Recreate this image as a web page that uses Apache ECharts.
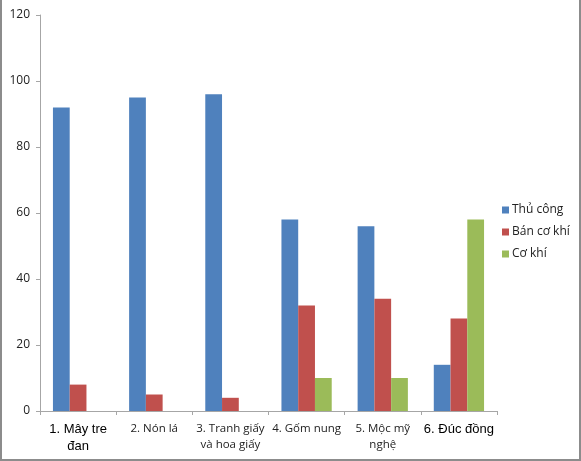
<!DOCTYPE html>
<html>
<head>
<meta charset="utf-8">
<script src="https://cdn.jsdelivr.net/npm/echarts@6/dist/echarts.min.js"></script>
<style>
  html, body { margin: 0; padding: 0; background: #fff; }
  #main { width: 577px; height: 459px; border: 2px solid #8c8c8c; border-top: none; background: #fff; }
</style>
</head>
<body>
<div id="main"></div>
<script>
var categories = ['1. Mây tre\nđan', '2. Nón lá', '3. Tranh giấy\nvà hoa giấy', '4. Gốm nung', '5. Mộc mỹ\nnghệ', '6. Đúc đồng'];
var seriesNames = ['Thủ công', 'Bán cơ khí', 'Cơ khí'];
var thuCong = [92, 95, 96, 58, 56, 14];
var banCoKhi = [8, 5, 4, 32, 34, 28];
var coKhi = [0, 0, 0, 10, 10, 58];
var colors = ['#4f81bd', '#c0504d', '#9bbb59'];
var boldLabels = ['1. Mây tre\nđan', '6. Đúc đồng'];

var myChart = echarts.init(document.getElementById('main'));
myChart.setOption({
  animation: false,
  color: colors,
  textStyle: { fontFamily: 'Open Sans, sans-serif' },
  grid: { left: 38, right: 82, top: 15, bottom: 48, containLabel: false },
  legend: {
    orient: 'vertical',
    left: 495,
    top: 199,
    itemWidth: 7,
    itemHeight: 7,
    itemGap: 10,
    icon: 'rect',
    textStyle: { fontSize: 12, color: '#222', padding: [0, 0, 0, -2] },
    data: seriesNames
  },
  xAxis: {
    type: 'category',
    data: categories,
    axisLine: { lineStyle: { color: '#a6a6a6' } },
    axisTick: { show: true, length: 4, lineStyle: { color: '#a6a6a6' } },
    axisLabel: {
      interval: 0,
      margin: 10,
      lineHeight: 16,
      formatter: function (v) {
        var s = boldLabels.indexOf(v) >= 0 ? 'b' : 'n';
        return v.split('\n').map(function (l) { return '{' + s + '|' + l + '}'; }).join('\n');
      },
      rich: {
        b: { fontSize: 13, color: '#000', fontFamily: 'Liberation Sans, Arial, sans-serif', lineHeight: 17 },
        n: { fontSize: 11.5, color: '#222', fontFamily: 'Open Sans, sans-serif', lineHeight: 16 }
      }
    }
  },
  yAxis: {
    type: 'value',
    min: 0,
    max: 120,
    interval: 20,
    axisLine: { show: true, lineStyle: { color: '#a6a6a6' } },
    axisTick: { show: true, length: 4, lineStyle: { color: '#a6a6a6' } },
    splitLine: { show: false },
    axisLabel: { fontSize: 12, color: '#222', margin: 10 }
  },
  series: [
    { name: seriesNames[0], type: 'bar', data: thuCong, barGap: '0%', barCategoryGap: '34%' },
    { name: seriesNames[1], type: 'bar', data: banCoKhi, barGap: '0%', barCategoryGap: '34%' },
    { name: seriesNames[2], type: 'bar', data: coKhi, barGap: '0%', barCategoryGap: '34%' }
  ]
});
</script>
</body>
</html>
